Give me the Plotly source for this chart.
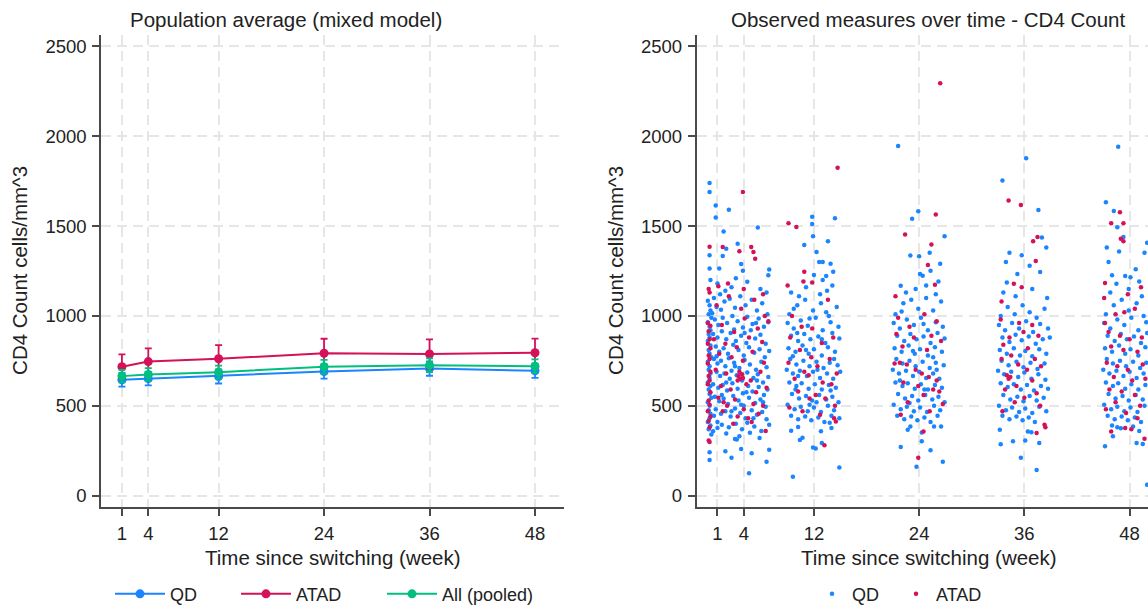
import plotly.graph_objects as go

# ---- left panel: mixed model population averages ----
weeks = [1, 4, 12, 24, 36, 48]
qd_mean = [645, 651, 663, 691, 707, 695]
qd_err = [38, 38, 39, 40, 40, 40]
atad_mean = [717, 746, 762, 792, 788, 795]
atad_err = [69, 73, 75, 81, 81, 79]
pooled_mean = [665, 674, 687, 717, 726, 720]
pooled_err = [35, 35, 36, 38, 38, 38]

y_ticks = [0, 500, 1000, 1500, 2000, 2500]

# ---- right panel: observed CD4 counts (jittered week, value) ----
qd_obs_wk1_4 = [
    (-0.1, 1085), (0.1, 1060), (0.2, 1030), (0.0, 1010), (0.3, 990), (-0.1, 965), (0.1, 940), (0.2, 920),
    (0.0, 900), (0.1, 880), (-0.1, 860), (0.2, 835), (0.0, 810), (0.1, 790), (0.3, 770), (-0.1, 745),
    (0.1, 720), (0.0, 700), (0.2, 680), (0.1, 655), (-0.1, 630), (0.2, 610), (0.0, 590), (0.1, 565),
    (0.3, 545), (-0.1, 520), (0.1, 500), (0.0, 475), (0.2, 455), (0.1, 430), (-0.1, 410), (0.2, 390), (0.0, 370),
    (0.1, 1740), (0.1, 1690), (0.8, 1615), (0.8, 1548), (2.3, 1591), (1.7, 1470), (5.6, 1492), (0.1, 1338),
    (0.1, 1264), (2.0, 1374), (1.6, 1334), (3.3, 1402), (3.7, 1289), (1.2, 1264), (6.9, 1259), (3.9, 1252),
    (6.8, 1226), (0.2, 1200), (1.0, 1180), (2.6, 1160), (4.4, 1190), (5.9, 1150), (6.6, 1130), (1.9, 1140),
    (3.1, 1210), (0.1, 198), (0.1, 242), (2.6, 211), (1.9, 247), (4.6, 125), (6.6, 189), (6.9, 255),
    (4.9, 236), (3.7, 260), (3.0, 315), (3.2, 312), (1.0, 376), (0.5, 358), (0.3, 340),
    (0.6, 1100), (0.9, 1050), (1.3, 1120), (1.8, 1080), (2.4, 1095), (3.0, 1045), (3.6, 1110), (4.2, 1060),
    (4.9, 1090), (5.5, 1030), (6.1, 1070), (6.7, 1010), (0.7, 980), (1.1, 950), (1.6, 990), (2.1, 960),
    (2.7, 1000), (3.3, 970), (3.9, 935), (4.4, 995), (5.0, 955), (5.7, 985), (6.3, 940), (6.8, 965),
    (0.5, 900), (1.0, 880), (1.5, 915), (2.0, 870), (2.5, 905), (3.1, 860), (3.7, 890), (4.3, 850),
    (4.8, 920), (5.3, 875), (5.9, 895), (6.5, 845), (0.8, 830), (1.2, 800), (1.7, 820), (2.2, 790),
    (2.8, 840), (3.4, 810), (4.0, 780), (4.6, 825), (5.2, 795), (5.8, 815), (6.4, 770), (6.9, 805),
    (0.6, 760), (1.0, 735), (1.4, 750), (1.9, 720), (2.3, 765), (2.9, 740), (3.5, 710), (4.1, 755),
    (4.7, 730), (5.4, 700), (6.0, 745), (6.6, 715), (0.9, 690), (1.3, 665), (1.8, 680), (2.4, 650),
    (2.6, 695), (3.2, 670), (3.8, 640), (4.4, 685), (5.1, 655), (5.6, 675), (6.2, 630), (6.8, 660),
    (0.5, 620), (1.1, 600), (1.6, 615), (2.1, 585), (2.7, 625), (3.3, 595), (3.9, 570), (4.5, 610),
    (5.0, 580), (5.7, 605), (6.3, 560), (6.7, 590), (0.7, 550), (1.2, 525), (1.7, 540), (2.2, 510),
    (2.8, 555), (3.4, 530), (4.0, 500), (4.6, 545), (5.3, 515), (5.9, 535), (6.5, 495), (0.8, 480),
    (1.4, 455), (1.9, 470), (2.5, 440), (3.0, 485), (3.6, 460), (4.2, 430), (4.9, 475), (5.5, 450),
    (6.1, 465), (6.6, 425), (1.0, 410), (1.5, 395), (2.3, 380), (3.1, 400), (3.8, 370), (4.4, 405),
    (5.2, 385), (6.0, 360), (6.9, 395), (2.0, 345), (3.5, 330), (4.7, 350), (5.8, 320),
    (0.4, 1015), (1.4, 1035), (2.9, 925), (4.1, 905), (5.4, 960), (0.9, 775), (2.0, 630), (3.0, 720),
    (4.3, 575), (5.5, 640), (6.2, 520), (1.5, 560), (2.6, 470), (3.7, 505), (5.1, 430), (0.6, 445),
]
atad_obs_wk1_4 = [
    (0.0, 1150), (0.1, 1130), (-0.1, 960), (0.2, 945), (0.0, 915), (0.1, 870), (-0.1, 845), (0.2, 820),
    (0.0, 780), (0.1, 760), (-0.1, 735), (0.2, 690), (0.0, 665), (0.1, 640), (-0.1, 620), (0.2, 575),
    (0.0, 530), (0.1, 505), (-0.1, 470), (0.2, 440), (0.0, 415), (0.1, 380), (0.0, 307), (0.1, 299),
    (3.9, 1690), (0.1, 1385), (1.6, 1384), (3.5, 1360), (4.85, 1384), (5.1, 1356), (5.3, 1318), (6.5, 359),
    (1.1, 1165), (2.2, 1180), (4.0, 1150), (6.2, 1120),
    (0.9, 1060), (2.3, 1110), (3.7, 1040), (5.2, 1090), (6.4, 1000), (1.5, 950), (2.9, 910), (4.1, 985),
    (5.6, 930), (6.8, 970), (0.6, 870), (1.9, 845), (3.2, 825), (4.6, 880), (6.1, 855), (1.2, 790),
    (2.6, 770), (3.9, 750), (5.0, 800), (6.3, 740), (0.8, 700), (2.0, 680), (3.4, 665), (3.6, 650),
    (3.8, 675), (3.5, 690), (3.3, 640), (3.9, 655), (4.8, 640), (5.9, 690), (1.4, 610), (2.5, 590),
    (4.3, 620), (5.4, 575), (6.6, 600), (1.1, 545), (1.7, 520), (2.1, 500), (3.0, 535), (4.0, 480),
    (5.1, 510), (6.2, 500), (1.6, 470), (3.3, 440), (4.5, 430), (5.7, 455), (2.8, 400), (4.9, 410),
]

qd_obs_wk12 = [
    (11.8, 1552), (11.8, 1512), (11.9, 1444), (14.4, 1543), (10.9, 1395), (12.3, 1356), (13.6, 1415),
    (12.6, 1300), (13.0, 1300), (13.9, 1290), (14.2, 1246), (12.0, 1228), (13.4, 1222), (13.0, 1200),
    (9.6, 105), (14.9, 156), (12.9, 293), (10.4, 310), (10.7, 322), (12.2, 262), (11.9, 268), (9.4, 361),
    (10.2, 382), (14.0, 376), (12.8, 358), (13.8, 406), (9.4, 1130), (11.1, 1160), (12.7, 1120),
    (14.1, 1170), (10.3, 1110), (13.5, 1140),
    (9.2, 1010), (10.1, 1060), (11.0, 1090), (11.9, 1030), (12.8, 1070), (13.7, 1000), (14.6, 1050),
    (9.0, 960), (9.7, 930), (10.5, 975), (11.3, 945), (12.2, 990), (13.0, 920), (13.9, 965), (14.8, 940),
    (9.4, 890), (10.2, 860), (10.9, 900), (11.6, 870), (12.5, 885), (13.3, 850), (14.1, 905), (14.9, 875),
    (9.1, 820), (9.9, 800), (10.7, 835), (11.4, 790), (12.0, 815), (12.9, 780), (13.6, 825), (14.4, 800),
    (9.3, 760), (10.0, 730), (10.8, 750), (11.5, 720), (12.3, 745), (13.1, 710), (13.8, 740), (14.7, 725),
    (8.9, 700), (9.6, 680), (10.4, 695), (11.2, 665), (11.9, 690), (12.7, 655), (13.5, 680), (14.2, 650),
    (15.0, 690), (9.2, 630), (10.0, 610), (10.6, 625), (11.4, 595), (12.1, 620), (12.9, 590), (13.7, 615),
    (14.5, 600), (9.5, 565), (10.3, 540), (11.1, 555), (11.8, 530), (12.6, 560), (13.4, 535), (14.1, 550),
    (14.8, 520), (9.0, 505), (9.8, 480), (10.5, 495), (11.3, 470), (12.0, 490), (12.8, 465), (13.6, 500),
    (14.3, 475), (9.4, 445), (10.2, 425), (11.0, 440), (11.7, 420), (12.5, 435), (13.2, 410), (14.0, 445),
    (14.9, 430), (9.7, 1040), (11.5, 985), (13.4, 1020), (10.1, 905), (12.9, 870), (9.6, 775), (11.1, 810),
    (14.3, 760), (10.2, 665), (12.4, 700), (13.9, 585), (11.5, 505), (9.9, 590), (12.3, 520),
]
atad_obs_wk12 = [
    (9.1, 1516), (10.0, 1495), (14.7, 1825), (10.9, 1246), (11.8, 1186), (10.8, 1192), (9.0, 1170),
    (13.2, 280), (14.3, 431), (14.5, 412), (13.6, 1090),
    (9.5, 1000), (10.6, 940), (11.8, 930), (9.3, 880), (12.9, 850), (14.2, 880), (10.4, 810), (11.7, 770),
    (13.8, 760), (9.1, 740), (12.4, 720), (10.9, 690), (11.4, 670), (14.6, 680), (9.8, 650), (13.0, 630),
    (14.0, 620), (10.2, 580), (12.2, 560), (11.5, 540), (13.3, 540), (9.2, 490), (14.4, 500), (10.7, 470),
    (12.7, 450),
]

qd_obs_wk24 = [
    (21.6, 1946), (23.2, 1541), (23.9, 1583), (26.9, 1444), (23.0, 1336), (24.0, 1332), (25.2, 1351),
    (25.3, 1252), (26.4, 1290), (24.1, 1233), (24.4, 1224), (21.9, 1168), (26.2, 1192), (21.9, 271),
    (23.7, 161), (26.7, 189), (25.3, 253), (24.3, 302), (24.3, 351), (25.7, 384), (26.5, 384), (22.7, 367),
    (23.0, 384), (22.5, 1130), (23.6, 1150), (25.9, 1120), (24.8, 1170),
    (21.3, 1010), (22.2, 1070), (23.1, 1090), (23.9, 1040), (24.8, 1100), (25.6, 1030), (26.5, 1080),
    (21.1, 960), (21.8, 930), (22.6, 980), (23.4, 950), (24.2, 990), (25.0, 920), (25.9, 965), (26.7, 940),
    (21.5, 890), (22.3, 860), (23.0, 900), (23.7, 870), (24.5, 885), (25.3, 850), (26.1, 905), (26.9, 875),
    (21.2, 820), (22.0, 800), (22.8, 835), (23.5, 790), (24.1, 815), (25.0, 780), (25.8, 825), (26.6, 800),
    (21.4, 760), (22.1, 735), (22.9, 750), (23.6, 720), (24.4, 745), (25.2, 710), (25.9, 740), (26.8, 725),
    (21.0, 700), (21.7, 680), (22.5, 695), (23.3, 665), (24.0, 690), (24.8, 655), (25.6, 680), (26.3, 650),
    (21.3, 630), (22.1, 610), (22.7, 625), (23.5, 595), (24.2, 620), (25.0, 590), (25.8, 615), (26.6, 600),
    (21.6, 565), (22.4, 540), (23.2, 555), (23.9, 530), (24.7, 560), (25.5, 535), (26.2, 550), (26.9, 520),
    (21.1, 505), (21.9, 480), (22.6, 495), (23.4, 470), (24.1, 490), (24.9, 465), (25.7, 500), (26.4, 475),
    (21.5, 445), (22.3, 425), (23.1, 440), (23.8, 420), (24.6, 435), (25.3, 410), (26.1, 445),
    (22.0, 1025), (24.5, 955), (23.3, 805), (25.6, 770), (21.8, 640), (24.6, 590), (22.9, 515), (26.0, 700),
]
atad_obs_wk24 = [
    (26.4, 2295), (22.4, 1453), (25.9, 1565), (25.4, 1398), (25.0, 1284), (25.8, 1173), (23.9, 211),
    (24.5, 357), (21.3, 1110),
    (21.6, 990), (22.9, 940), (24.6, 1010), (26.0, 970), (21.4, 900), (23.4, 880), (25.4, 890), (26.5, 860),
    (22.1, 830), (24.9, 810), (21.2, 735), (21.8, 740), (22.6, 730), (23.6, 700), (24.3, 680), (25.1, 660),
    (26.0, 640), (22.2, 630), (23.9, 610), (25.6, 590), (26.3, 580), (24.5, 560), (22.7, 520), (26.7, 510),
    (21.9, 450), (25.2, 470),
]

qd_obs_wk36 = [
    (33.5, 1754), (36.2, 1878), (37.6, 1589), (38.0, 1436), (38.5, 1381), (34.3, 1352), (33.9, 1300),
    (35.7, 1338), (35.2, 1233), (36.6, 1279), (37.8, 1244), (34.0, 1186), (33.3, 286), (35.6, 211),
    (37.4, 143), (37.7, 293), (36.4, 357), (36.8, 352), (33.2, 367), (34.7, 302), (36.1, 307),
    (33.6, 1130), (35.0, 1110), (36.9, 1150), (38.6, 1100),
    (33.3, 1000), (34.1, 1050), (34.9, 1010), (35.8, 1060), (36.6, 1020), (37.4, 990), (38.3, 1040),
    (33.1, 950), (33.8, 920), (34.6, 960), (35.4, 930), (36.2, 970), (37.0, 910), (37.8, 955), (38.7, 930),
    (33.5, 880), (34.3, 855), (35.0, 895), (35.7, 865), (36.5, 885), (37.3, 845), (38.1, 870), (38.9, 880),
    (33.2, 810), (34.0, 790), (34.8, 820), (35.5, 780), (36.1, 805), (36.9, 775), (37.7, 815), (38.5, 790),
    (33.4, 750), (34.2, 725), (35.1, 745), (35.9, 715), (36.7, 740), (37.5, 705), (38.3, 735),
    (33.0, 695), (33.7, 675), (34.5, 690), (35.3, 660), (36.0, 685), (36.8, 650), (37.6, 675), (38.4, 645),
    (33.3, 625), (34.1, 605), (34.8, 620), (35.6, 590), (36.3, 615), (37.1, 585), (37.9, 610), (38.7, 595),
    (33.6, 560), (34.4, 535), (35.2, 550), (35.9, 525), (36.6, 555), (37.4, 530), (38.2, 545),
    (33.1, 500), (33.9, 475), (34.6, 490), (35.4, 465), (36.1, 485), (36.9, 460), (37.7, 495), (38.5, 470),
    (33.5, 445), (34.3, 425), (35.1, 440), (35.8, 420), (36.5, 435), (37.2, 410),
]
atad_obs_wk36 = [
    (34.2, 1642), (35.6, 1618), (37.0, 1415), (37.5, 1439), (37.3, 1306), (34.8, 1179), (35.7, 1160),
    (38.3, 394), (38.4, 381), (37.4, 348), (33.4, 1080),
    (33.3, 980), (35.4, 960), (36.9, 950), (34.3, 880), (35.9, 910), (37.6, 890), (33.6, 840), (36.4, 820),
    (34.5, 780), (33.4, 760), (35.3, 730), (37.2, 760), (37.9, 720), (34.0, 670), (34.2, 650), (34.4, 660),
    (36.3, 700), (36.9, 640), (35.1, 610), (33.8, 590), (37.4, 570), (36.0, 545), (34.9, 520), (37.8, 500),
    (33.5, 470),
]

qd_obs_wk48 = [
    (46.7, 1941), (45.3, 1633), (46.2, 1584), (46.6, 1494), (47.3, 1439), (45.4, 1381), (45.6, 1300),
    (46.8, 1359), (50.0, 1407), (49.7, 1352), (46.0, 1226), (47.5, 1222), (48.1, 1215), (49.1, 1192),
    (46.5, 1179), (45.2, 275), (50.0, 60), (46.1, 330), (48.8, 293), (49.5, 287), (46.6, 381),
    (45.8, 1130), (47.9, 1150), (49.4, 1110), (48.7, 1260),
    (45.3, 1010), (46.2, 1060), (47.1, 1090), (47.9, 1030), (48.8, 1070), (49.6, 1000),
    (45.1, 960), (45.8, 930), (46.6, 980), (47.4, 950), (48.2, 990), (49.0, 920), (49.9, 965),
    (45.5, 890), (46.3, 860), (47.0, 900), (47.7, 870), (48.5, 885), (49.3, 850), (50.0, 905),
    (45.2, 820), (46.0, 800), (46.8, 835), (47.5, 790), (48.1, 815), (49.0, 780), (49.8, 825),
    (45.4, 760), (46.1, 735), (46.9, 750), (47.6, 720), (48.4, 745), (49.2, 710), (49.9, 740),
    (45.0, 700), (45.7, 680), (46.5, 695), (47.3, 665), (48.0, 690), (48.8, 655), (49.6, 680),
    (45.3, 630), (46.1, 610), (46.7, 625), (47.5, 595), (48.2, 620), (49.0, 590), (49.8, 615),
    (45.6, 565), (46.4, 540), (47.2, 555), (47.9, 530), (48.7, 560), (49.5, 535),
    (45.1, 505), (45.9, 480), (46.6, 495), (47.4, 470), (48.1, 490), (48.9, 465), (49.7, 500),
    (45.5, 445), (46.3, 425), (47.1, 440), (47.8, 420), (48.6, 435), (49.3, 410),
    (46.0, 390), (47.0, 375), (48.4, 385), (49.1, 360),
]
atad_obs_wk48 = [
    (46.9, 1577), (45.9, 1516), (47.3, 1516), (47.0, 1430), (47.3, 1415), (45.2, 1183), (49.7, 317),
    (45.9, 357), (47.5, 376), (48.2, 370), (45.1, 1100), (47.8, 1120), (49.3, 1160),
    (45.2, 960), (46.4, 1010), (47.4, 1020), (48.6, 1040), (45.6, 910), (46.9, 890), (48.0, 870),
    (49.4, 880), (45.9, 830), (47.3, 810), (48.9, 800), (45.4, 740), (46.6, 720), (47.8, 700), (49.5, 730),
    (46.2, 660), (48.3, 640), (49.8, 650), (45.7, 590), (47.1, 580), (48.6, 560), (46.4, 520), (49.2, 500),
    (45.3, 480), (47.6, 460), (48.9, 430),
]

BLUE = "#1a85ff"
RED = "#d41159"
GREEN = "#00bf7f"
FONT = "Liberation Sans, Arial, Helvetica, sans-serif"
INK = "#222222"
AXIS = "#4a4a4a"
GRID = "#e6e6e6"

W, H = 1148, 613


def px(x):
    return x / W


def py(y):
    return 1 - y / H


fig = go.Figure()

# mixed model lines with error bars
for name, mean, err, col, lg in [
    ("QD", qd_mean, qd_err, BLUE, "legend"),
    ("ATAD", atad_mean, atad_err, RED, "legend2"),
    ("All (pooled)", pooled_mean, pooled_err, GREEN, "legend3"),
]:
    fig.add_trace(go.Scatter(
        x=weeks, y=mean, name=name, mode="lines+markers",
        line=dict(color=col, width=2),
        marker=dict(color=col, size=9),
        error_y=dict(type="data", array=err, color=col, thickness=1.8, width=3.5),
        xaxis="x", yaxis="y", legend=lg, showlegend=True,
    ))

# observed scatter
qd_obs = qd_obs_wk1_4 + qd_obs_wk12 + qd_obs_wk24 + qd_obs_wk36 + qd_obs_wk48
atad_obs = atad_obs_wk1_4 + atad_obs_wk12 + atad_obs_wk24 + atad_obs_wk36 + atad_obs_wk48

fig.add_trace(go.Scatter(
    x=[p[0] for p in qd_obs], y=[p[1] for p in qd_obs], name="QD", mode="markers",
    marker=dict(color=BLUE, size=4.5), xaxis="x2", yaxis="y2", legend="legend4", showlegend=True,
))
fig.add_trace(go.Scatter(
    x=[p[0] for p in atad_obs], y=[p[1] for p in atad_obs], name="ATAD", mode="markers",
    marker=dict(color=RED, size=4.5), xaxis="x2", yaxis="y2", legend="legend5", showlegend=True,
))

axis_style = dict(
    showline=True, linecolor=AXIS, linewidth=1.5,
    ticks="outside", ticklen=7, tickwidth=1.5, tickcolor=AXIS, ticklabelstandoff=2,
    showgrid=True, gridcolor=GRID, gridwidth=1.5, griddash="10px,6px",
    zeroline=False, tickfont=dict(size=18.5, color=INK, family=FONT),
)

plot_top, plot_bot = 35, 514

leg_common = dict(orientation="h", yanchor="middle", xanchor="left", visible=True,
                  font=dict(size=18, color=INK, family=FONT),
                  bgcolor="rgba(0,0,0,0)", itemwidth=50)

fig.update_layout(
    width=W, height=H,
    margin=dict(l=0, r=0, t=0, b=0),
    paper_bgcolor="white", plot_bgcolor="white",
    font=dict(family=FONT, color=INK),
    showlegend=True,
    xaxis=dict(domain=[px(101), px(564)], range=[-1.38, 51.3], tickvals=weeks,
               anchor="y", **axis_style),
    yaxis=dict(domain=[py(plot_bot), py(plot_top)], range=[-65, 2566], tickvals=y_ticks,
               anchor="x", **axis_style),
    xaxis2=dict(domain=[px(696.6), 1.0], range=[-1.38, 50.1], tickvals=weeks,
                anchor="y2", **axis_style),
    yaxis2=dict(domain=[py(plot_bot), py(plot_top)], range=[-65, 2566], tickvals=y_ticks,
                anchor="x2", **axis_style),
    legend=dict(x=px(110), y=py(602), **leg_common),
    legend2=dict(x=px(236), y=py(602), **leg_common),
    legend3=dict(x=px(382), y=py(602), **leg_common),
    legend4=dict(x=px(812), y=py(602), **{**leg_common, "itemwidth": 30}),
    legend5=dict(x=px(896), y=py(602), **{**leg_common, "itemwidth": 30}),
)

title_font = dict(size=20.5, color=INK, family=FONT)
annos = [
    dict(text="Population average (mixed model)", x=px(285.5), y=py(20)),
    dict(text="Observed measures over time - CD4 Count", x=px(928), y=py(20)),
    dict(text="Time since switching (week)", x=px(332.7), y=py(565)),
    dict(text="Time since switching (week)", x=px(928.5), y=py(565)),
    dict(text="CD4 Count cells/mm^3", x=px(20), y=py(274.5), textangle=-90),
    dict(text="CD4 Count cells/mm^3", x=px(616), y=py(274.5), textangle=-90),
]
for a in annos:
    fig.add_annotation(xref="paper", yref="paper", showarrow=False,
                       xanchor="center", yanchor="middle", font=title_font, **a)

fig.write_html(
    "out.html",
    config={"displayModeBar": False},
    post_script="document.body.style.margin='0';document.body.style.overflow='hidden';",
)
